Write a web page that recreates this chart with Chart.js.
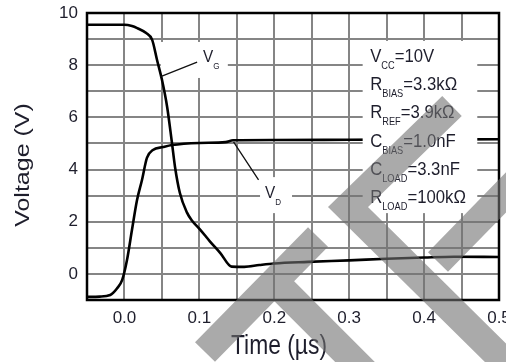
<!DOCTYPE html>
<html><head><meta charset="utf-8">
<script src="https://cdn.jsdelivr.net/npm/chart.js@4.4.0/dist/chart.umd.min.js"></script>
<style>html,body{margin:0;padding:0;background:#fff;overflow:hidden}#wrap{width:506px;height:362px;position:relative}</style>
</head><body><div id="wrap"><canvas id="c" width="506" height="362"></canvas></div>
<script>
// ---- data ----
const timeG = [-0.05, 0.0, 0.01, 0.017, 0.029, 0.037, 0.0435, 0.05, 0.057, 0.0635, 0.0675, 0.074, 0.0835, 0.09, 0.101, 0.114, 0.128, 0.143, 0.16, 0.18, 0.2, 0.245, 0.3, 0.35, 0.4, 0.44, 0.5];
const voltG = [9.55, 9.55, 9.5, 9.42, 9.23, 8.97, 8.2, 7.45, 6.4, 5.0, 4.1, 3.1, 2.35, 2.05, 1.7, 1.25, 0.8, 0.28, 0.27, 0.34, 0.4, 0.46, 0.52, 0.58, 0.63, 0.66, 0.65];
const timeD = [-0.05, -0.033, -0.019, -0.01, -0.003, 0.0034, 0.01, 0.0168, 0.0234, 0.03, 0.038, 0.0515, 0.0635, 0.1, 0.135, 0.145, 0.2, 0.3, 0.4, 0.5];
const voltD = [-0.88, -0.87, -0.81, -0.56, -0.23, 0.53, 1.68, 2.83, 3.6, 4.45, 4.75, 4.86, 4.94, 5.02, 5.05, 5.12, 5.13, 5.14, 5.15, 5.16];
const xLabelValues = [0.0, 0.1, 0.2, 0.3, 0.4, 0.5];
const yLabelValues = [0, 2, 4, 6, 8, 10];
const seriesNames = ['V', 'V'];
const seriesSubs = ['G', 'D'];
const condNames = ['V', 'R', 'R', 'C', 'C', 'R'];
const condSubs = ['CC', 'BIAS', 'REF', 'BIAS', 'LOAD', 'LOAD'];
const condValues = ['=10V', '=3.3k\u03A9', '=3.9k\u03A9', '=1.0nF', '=3.3nF', '=100k\u03A9'];
const xTitle = 'Time (\u00B5s)';
const yTitle = 'Voltage (V)';

const FONT = '"Liberation Sans", Arial, sans-serif';
const TXT = '#1e1e2c';

function sText(ctx, str, px, py, size, sx) {
  ctx.save();
  ctx.font = size + 'px ' + FONT;
  ctx.translate(px, py);
  ctx.scale(sx, 1);
  ctx.fillText(str, 0, 0);
  const w = ctx.measureText(str).width * sx;
  ctx.restore();
  return w;
}
function subText(ctx, main, sub, px, py, size, subSize, sx) {
  ctx.textAlign = 'left'; ctx.textBaseline = 'alphabetic'; ctx.fillStyle = TXT;
  let w = sText(ctx, main, px, py, size, sx);
  w += sText(ctx, sub, px + w, py + 7, subSize, sx);
  return w;
}

const decor = {
  id: 'decor',
  beforeDatasetsDraw(chart) {
    const {ctx, scales: {x, y}} = chart;
    ctx.save();
    ctx.fillStyle = '#fff';
    ctx.fillRect(x.getPixelForValue(0.0485), y.getPixelForValue(8.89), x.getPixelForValue(0.138) - x.getPixelForValue(0.0485), y.getPixelForValue(7.51) - y.getPixelForValue(8.89));
    ctx.fillRect(x.getPixelForValue(0.181), y.getPixelForValue(3.71), x.getPixelForValue(0.2237) - x.getPixelForValue(0.181), y.getPixelForValue(2.33) - y.getPixelForValue(3.71));
    ctx.restore();
  },
  afterDatasetsDraw(chart) {
    const {ctx, scales: {x, y}, chartArea: ca} = chart;
    ctx.save();
    ctx.fillStyle = '#fff';
    const bx0 = x.getPixelForValue(0.318), bx1 = x.getPixelForValue(0.471);
    const by0 = y.getPixelForValue(8.93), by1 = y.getPixelForValue(2.33);
    ctx.fillRect(bx0, by0, bx1 - bx0, by1 - by0);
    ctx.strokeStyle = '#111'; ctx.lineWidth = 1.3;
    ctx.beginPath();
    ctx.moveTo(x.getPixelForValue(0.0475), y.getPixelForValue(7.55));
    ctx.lineTo(x.getPixelForValue(0.097), y.getPixelForValue(8.12));
    ctx.moveTo(x.getPixelForValue(0.1456), y.getPixelForValue(5.06));
    ctx.lineTo(x.getPixelForValue(0.179), y.getPixelForValue(3.6));
    ctx.stroke();
    subText(ctx, seriesNames[0], seriesSubs[0], x.getPixelForValue(0.1049), y.getPixelForValue(8.12), 17, 9, 0.9);
    subText(ctx, seriesNames[1], seriesSubs[1], x.getPixelForValue(0.1876), y.getPixelForValue(2.91), 17, 9, 0.9);
    for (let i = 0; i < condNames.length; i++) {
      const yy = y.getPixelForValue(8.12 - i * 1.08);
      let xx = x.getPixelForValue(0.328);
      xx += subText(ctx, condNames[i], condSubs[i], xx, yy, 19, 10.5, 0.88);
      ctx.fillStyle = TXT;
      sText(ctx, condValues[i], xx, yy, 19, 0.88);
    }
    ctx.strokeStyle = '#000'; ctx.lineWidth = 2.5;
    ctx.strokeRect(ca.left, ca.top, ca.right - ca.left, ca.bottom - ca.top);
    ctx.fillStyle = TXT; ctx.textAlign = 'center'; ctx.textBaseline = 'middle';
    ctx.save();
    ctx.font = '28px ' + FONT;
    ctx.translate(279, 346); ctx.scale(0.815, 1);
    ctx.fillText(xTitle, 0, 0);
    ctx.restore();
    ctx.save();
    ctx.font = '25px ' + FONT;
    ctx.translate(24, 165); ctx.scale(0.78, 1); ctx.rotate(-Math.PI / 2);
    ctx.fillText(yTitle, 0, 0);
    ctx.restore();
    ctx.restore();
  },
  afterDraw(chart) {
    const {ctx} = chart;
    ctx.save();
    ctx.strokeStyle = 'rgba(113,113,113,0.6)';
    ctx.lineWidth = 28; ctx.lineCap = 'butt'; ctx.lineJoin = 'miter';
    ctx.beginPath();
    ctx.moveTo(205, 352); ctx.lineTo(318, 237);
    ctx.moveTo(283, 290); ctx.lineTo(375, 382);
    ctx.moveTo(452, 106); ctx.lineTo(348, 207); ctx.lineTo(520, 377);
    ctx.moveTo(522, 176); ctx.lineTo(438, 262);
    ctx.stroke();
    ctx.restore();
  }
};

const near = (v, arr) => arr.some(a => Math.abs(a - v) < 1e-6);

new Chart(document.getElementById('c'), {
  type: 'line',
  data: {
    datasets: [
      {label: 'VG', data: timeG.map((t, i) => ({x: t, y: voltG[i]})), borderColor: '#000', borderWidth: 2.6, pointRadius: 0, cubicInterpolationMode: 'monotone', fill: false},
      {label: 'VD', data: timeD.map((t, i) => ({x: t, y: voltD[i]})), borderColor: '#000', borderWidth: 2.6, pointRadius: 0, cubicInterpolationMode: 'monotone', fill: false}
    ]
  },
  options: {
    responsive: false, animation: false, devicePixelRatio: 1,
    layout: {padding: {top: 13, right: 7, left: 0, bottom: 0}},
    plugins: {legend: {display: false}, tooltip: {enabled: false}},
    scales: {
      x: {
        type: 'linear', min: -0.05, max: 0.5,
        border: {display: false},
        grid: {color: '#858585', lineWidth: 2, drawTicks: false},
        ticks: {stepSize: 0.05, autoSkip: false, maxRotation: 0, padding: 8, color: TXT,
          font: {family: FONT, size: 17},
          callback: v => near(v, xLabelValues) ? (Math.abs(v) < 1e-9 ? 0 : v).toFixed(1) : ''},
        afterFit: s => { s.height = 62; s.paddingLeft = 0; s.paddingRight = 0; }
      },
      y: {
        type: 'linear', min: -1, max: 10,
        border: {display: false},
        grid: {color: '#858585', lineWidth: 2, drawTicks: false},
        ticks: {stepSize: 1, autoSkip: false, padding: 9, color: TXT,
          font: {family: FONT, size: 17},
          callback: v => near(v, yLabelValues) ? String(Math.round(v)) : ''},
        afterFit: s => { s.width = 87; s.paddingTop = 0; s.paddingBottom = 0; }
      }
    }
  },
  plugins: [decor]
});
</script>
</body></html>
